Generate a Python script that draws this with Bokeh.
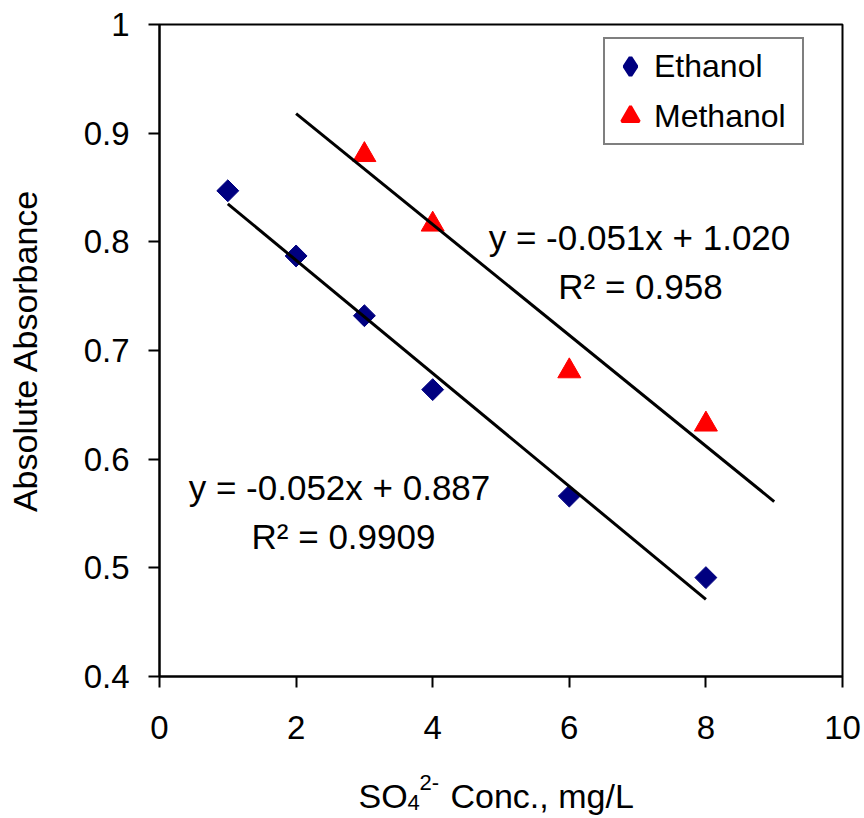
import math
from bokeh.plotting import figure
from bokeh.layouts import column
from bokeh.models import Label, Legend, LegendItem, FixedTicker, Range1d, CustomJSTickFormatter
from bokeh.embed import file_html
from bokeh.resources import INLINE

# ---- data ----
ethanol_x = [1, 2, 3, 4, 6, 8]
ethanol_y = [0.847, 0.787, 0.732, 0.664, 0.566, 0.491]
methanol_x = [3, 4, 6, 8]
methanol_y = [0.880, 0.816, 0.681, 0.632]

eth_slope, eth_intercept = -0.052, 0.887
eth_fit_x = [1, 8]
meth_slope, meth_intercept = -0.051, 1.020
meth_fit_x = [2, 9]

x_ticks = [0, 2, 4, 6, 8, 10]
y_ticks = [0.4, 0.5, 0.6, 0.7, 0.8, 0.9, 1.0]

eth_eq = ["y = -0.052x + 0.887", "R\u00b2 = 0.9909"]
meth_eq = ["y = -0.051x + 1.020", "R\u00b2 = 0.958"]

FONT = "Liberation Sans"
NAVY = "#000080"
RED = "#FF0000"

MAIN_H = 760
p = figure(width=864, height=MAIN_H, output_backend="svg", toolbar_location=None, title=None,
           x_range=Range1d(0, 10), y_range=Range1d(0.4, 1.0),
           min_border_left=159, min_border_right=22, min_border_top=24,
           min_border_bottom=MAIN_H - 676)
p.grid.visible = False
p.outline_line_color = "black"
p.outline_line_width = 2
p.outline_line_alpha = 1
p.border_fill_color = "white"
p.background_fill_color = "white"

fmt = CustomJSTickFormatter(code="return Number.isInteger(tick) ? tick.toString() : tick.toFixed(1);")
for ax, ticks in ((p.xaxis[0], x_ticks), (p.yaxis[0], y_ticks)):
    ax.ticker = FixedTicker(ticks=ticks)
    ax.formatter = fmt
    ax.axis_line_color = "black"
    ax.axis_line_width = 2
    ax.major_tick_line_color = "black"
    ax.major_tick_line_width = 2
    ax.major_tick_out = 11
    ax.major_tick_in = 0
    ax.minor_tick_line_color = None
    ax.major_label_text_font = FONT
    ax.major_label_text_font_size = "33px"
    ax.major_label_text_color = "black"

p.yaxis[0].major_label_standoff = 19
p.xaxis[0].major_label_standoff = 28
p.yaxis[0].axis_label = "Absolute Absorbance"
p.yaxis[0].axis_label_text_font = FONT
p.yaxis[0].axis_label_text_font_size = "34px"
p.yaxis[0].axis_label_text_font_style = "normal"
p.yaxis[0].axis_label_text_color = "black"
p.yaxis[0].axis_label_standoff = 37

p.scatter(ethanol_x, ethanol_y, marker="square", angle=math.pi / 4, size=15.5,
          fill_color=NAVY, line_color=NAVY)
p.scatter(methanol_x, methanol_y, marker="triangle", size=23,
          fill_color=RED, line_color=RED)

p.line(eth_fit_x, [eth_slope * x + eth_intercept for x in eth_fit_x], line_color="black", line_width=3)
p.line(meth_fit_x, [meth_slope * x + meth_intercept for x in meth_fit_x], line_color="black", line_width=3)

# hidden renderers that only provide the legend keys (diamond / triangle)
leg_eth = p.scatter(ethanol_x, ethanol_y, marker="diamond", fill_color=NAVY, line_color=NAVY,
                    line_width=4, visible=False)
leg_meth = p.scatter(methanol_x, methanol_y, marker="triangle", fill_color=RED, line_color=RED,
                     line_width=3, visible=False)

legend = Legend(items=[LegendItem(label="Ethanol", renderers=[leg_eth]),
                       LegendItem(label="Methanol", renderers=[leg_meth])],
                location=(444, 531), margin=0, padding=3, spacing=2,
                glyph_width=44, glyph_height=48, label_standoff=2, label_width=145,
                label_text_font=FONT, label_text_font_size="32px", label_text_color="black",
                border_line_color="black", border_line_width=2, background_fill_alpha=1)
p.add_layout(legend)

# helpers: reference page pixel -> data coordinates of the main frame
def dx(X):
    return (X - 159) / 68.3

def dy(Y):
    return 1.0 - (Y - 24) / 1086.7

def lab(fig, text, x, y, size, align="center", baseline="middle"):
    fig.add_layout(Label(x=x, y=y, text=text, text_align=align, text_baseline=baseline,
                         text_font=FONT, text_font_size=size, text_color="black"))

lab(p, meth_eq[0], dx(639), dy(237), "35px")
lab(p, meth_eq[1], dx(640), dy(286), "35px")
lab(p, eth_eq[0], dx(339), dy(487), "35px")
lab(p, eth_eq[1], dx(343), dy(536), "35px")

# x-axis title strip (with subscript / superscript); its frame is aligned with
# the main frame (159..842 px), so the x range is in page pixels
TITLE_H = 818 - MAIN_H
t = figure(width=864, height=TITLE_H, output_backend="svg", toolbar_location=None, title=None,
           x_range=Range1d(159, 842), y_range=Range1d(0, TITLE_H),
           x_axis_type=None, y_axis_type=None, min_border=0,
           min_border_left=159, min_border_right=22)
t.grid.visible = False
t.outline_line_color = None
t.border_fill_color = "white"
t.background_fill_color = "white"

BASE = 818 - 795
lab(t, "SO", 358, BASE, "34px", align="left", baseline="alphabetic")
lab(t, "4", 407, BASE - 7, "22px", align="left", baseline="alphabetic")
lab(t, "2-", 419, BASE + 13, "22px", align="left", baseline="alphabetic")
lab(t, "Conc., mg/L", 450, BASE, "34px", align="left", baseline="alphabetic")

open("out.html", "w").write(file_html(column(p, t, spacing=0), INLINE))
